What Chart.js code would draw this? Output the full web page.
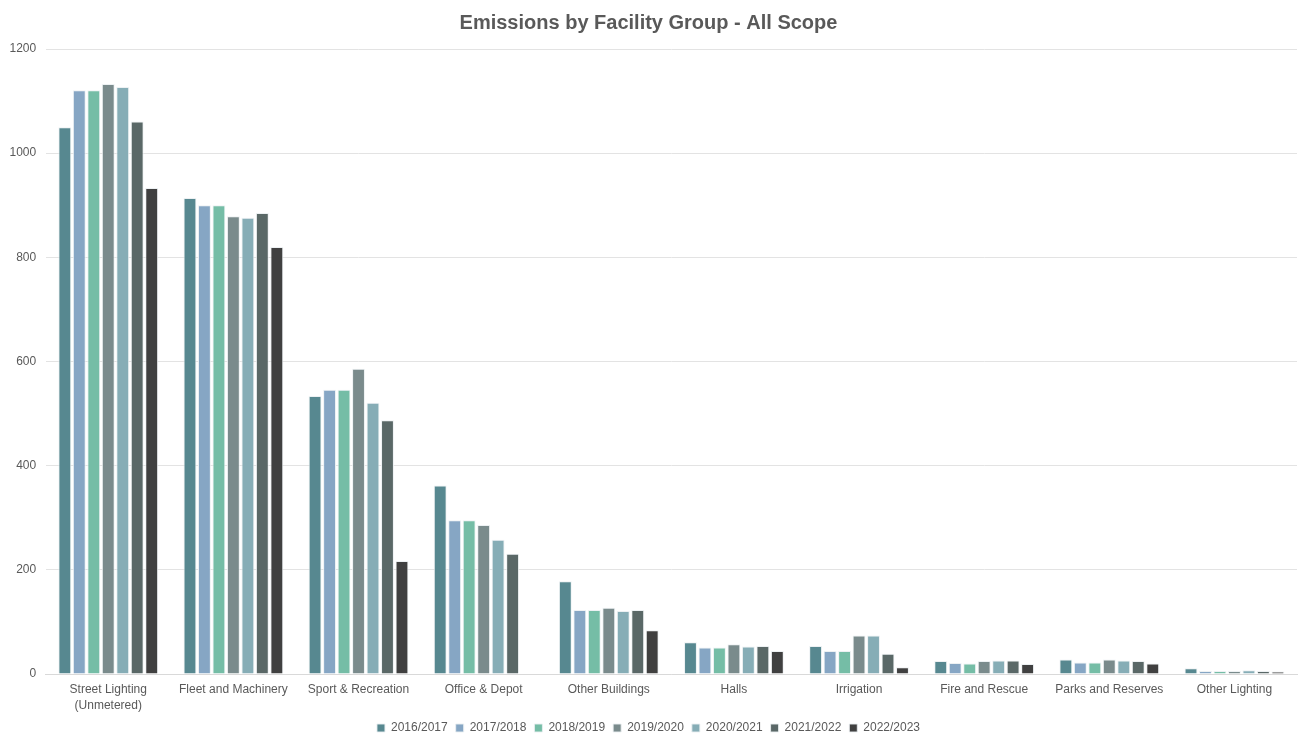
<!DOCTYPE html>
<html>
<head>
<meta charset="utf-8">
<title>Emissions by Facility Group</title>
<script src="https://cdn.jsdelivr.net/npm/chart.js@4.4.1/dist/chart.umd.min.js"></script>
<style>
  html, body { margin: 0; padding: 0; background: #fff; }
  #wrap { width: 1303px; height: 734px; }
</style>
</head>
<body>
<div id="wrap"><canvas id="chartdiv" width="1303" height="734"></canvas></div>
<script>
const facilities = [
    ['Street Lighting', '(Unmetered)'],
    'Fleet and Machinery',
    'Sport & Recreation',
    'Office & Depot',
    'Other Buildings',
    'Halls',
    'Irrigation',
    'Fire and Rescue',
    'Parks and Reserves',
    'Other Lighting'
]

const years = ['2016/2017', '2017/2018', '2018/2019', '2019/2020', '2020/2021', '2021/2022', '2022/2023']

const fy2016 = [1050, 914, 534, 362, 178, 61, 54, 25, 28, 11]
const fy2017 = [1121, 900, 546, 295, 123, 51, 44, 21, 22, 6]
const fy2018 = [1121, 900, 546, 295, 123, 51, 44, 20, 22, 6]
const fy2019 = [1133, 879, 586, 286, 127, 57, 74, 25, 28, 6]
const fy2020 = [1127, 876, 521, 258, 121, 53, 74, 26, 26, 7]
const fy2021 = [1061, 885, 487, 231, 123, 54, 39, 26, 25, 6]
const fy2022 = [933, 820, 217, null, 84, 44, 13, 19, 20, 5]

const yearValues = [fy2016, fy2017, fy2018, fy2019, fy2020, fy2021, fy2022]

const colors = [
    '#578890',
    '#86a6c4',
    '#75bda6',
    '#7a8b8c',
    '#86adb6',
    '#5a6867',
    '#404040'
]

const fontFamily = "'Liberation Sans Narrow', 'Arial Narrow', 'Liberation Sans', Arial, sans-serif"
const textColor = '#595959'

let dataS = []
years.forEach((year, i) => {
    dataS.push({
        label: year,
        data: yearValues[i],
        backgroundColor: colors[i],
        borderColor: 'rgba(235,240,242,0.9)',
        borderWidth: 1,
        categoryPercentage: 0.81,
        barPercentage: 0.89
    })
})

const config = {
    type: 'bar',
    data: {
        labels: facilities,
        datasets: dataS
    },
    options: {
        responsive: false,
        animation: false,
        layout: { padding: { left: 0, right: 6, top: 4, bottom: -10 } },
        plugins: {
            title: {
                display: true,
                text: 'Emissions by Facility Group - All Scope',
                color: textColor,
                font: { family: fontFamily, size: 20, weight: 'bold' },
                padding: { top: 7, bottom: 14 }
            },
            legend: {
                position: 'bottom',
                labels: {
                    color: textColor,
                    font: { family: fontFamily, size: 12 },
                    boxWidth: 8,
                    boxHeight: 8,
                    padding: 8
                }
            },
            tooltip: { enabled: false }
        },
        scales: {
            x: {
                grid: { display: false, drawTicks: false },
                border: { display: true, color: '#d9d9d9' },
                ticks: {
                    color: textColor,
                    font: { family: fontFamily, size: 12, lineHeight: 1.33 },
                    padding: 8,
                    maxRotation: 0,
                    autoSkip: false
                },
                // keep the label band a fixed height so the legend sits close under it
                afterFit: scale => { scale.height = 40 }
            },
            y: {
                min: 0,
                max: 1200,
                grid: { color: '#e3e3e3', drawTicks: false },
                border: { display: false },
                ticks: {
                    stepSize: 200,
                    color: textColor,
                    font: { family: fontFamily, size: 12 },
                    padding: 9.5,
                    callback: value => String(value)
                }
            }
        }
    }
}

new Chart(document.getElementById('chartdiv'), config)
</script>
</body>
</html>
